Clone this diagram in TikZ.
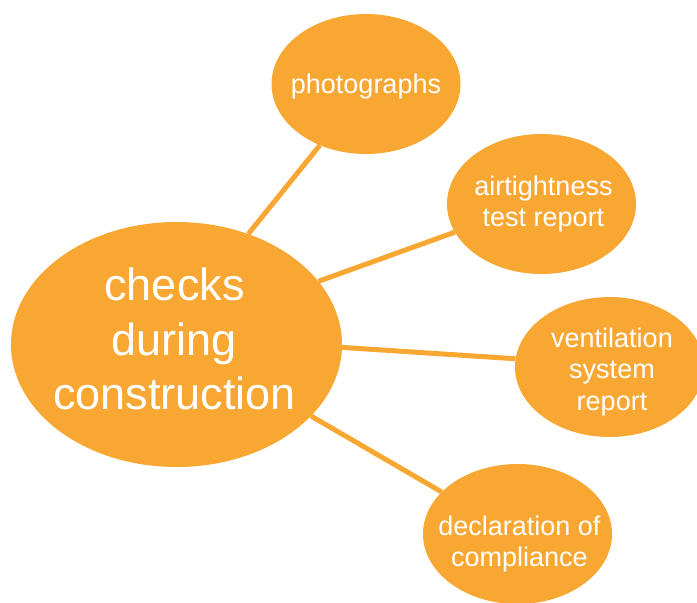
\documentclass[tikz,border=0pt]{standalone}
\usepackage{fontspec}
\setmainfont{Liberation Sans}
\usetikzlibrary{shapes.geometric, backgrounds}
\definecolor{mapOrange}{RGB}{249,167,51}
\begin{document}
\begin{tikzpicture}[
    x=1pt, y=-1pt,
    hub/.style={ellipse, fill=mapOrange, inner sep=0pt, minimum width=331pt, minimum height=245pt},
    leaf/.style={ellipse, fill=mapOrange, inner sep=0pt, minimum width=189pt, minimum height=140pt},
    hubtext/.style={text=white, align=center, inner sep=0pt, font=\fontsize{45}{54.6}\selectfont},
    leaftext/.style={text=white, align=center, inner sep=0pt, font=\fontsize{27}{31.9}\selectfont},
    link/.style={line width=5pt, color=mapOrange}
]
    \useasboundingbox (0,0) rectangle (697,603);

    \node[hub, label={[hubtext, xshift=-2pt, yshift=5.5pt]center:checks\\during\\construction}] (hub) at (176.5,344.5) {};
    \node[leaf, label={[leaftext, yshift=-3pt]center:photographs}] (photos) at (366,84) {};
    \node[leaf, label={[leaftext, xshift=2pt]center:airtightness\\test report}] (airtest) at (541.5,204) {};
    \node[leaf, label={[leaftext, xshift=2.5pt, yshift=-5pt]center:ventilation\\system\\report}] (vent) at (609.5,367) {};
    \node[leaf, label={[leaftext, xshift=2pt, yshift=-10pt]center:declaration of\\compliance}] (declare) at (517.5,534) {};

    % Spokes
    \begin{scope}[on background layer]
        \draw[link] (hub.57) -- (photos.233);
        \draw[link] (hub.24) -- (airtest.198);
        \draw[link] (hub.-1) -- (vent.175);
        \draw[link] (hub.-28) -- (declare.151);
    \end{scope}
\end{tikzpicture}
\end{document}
